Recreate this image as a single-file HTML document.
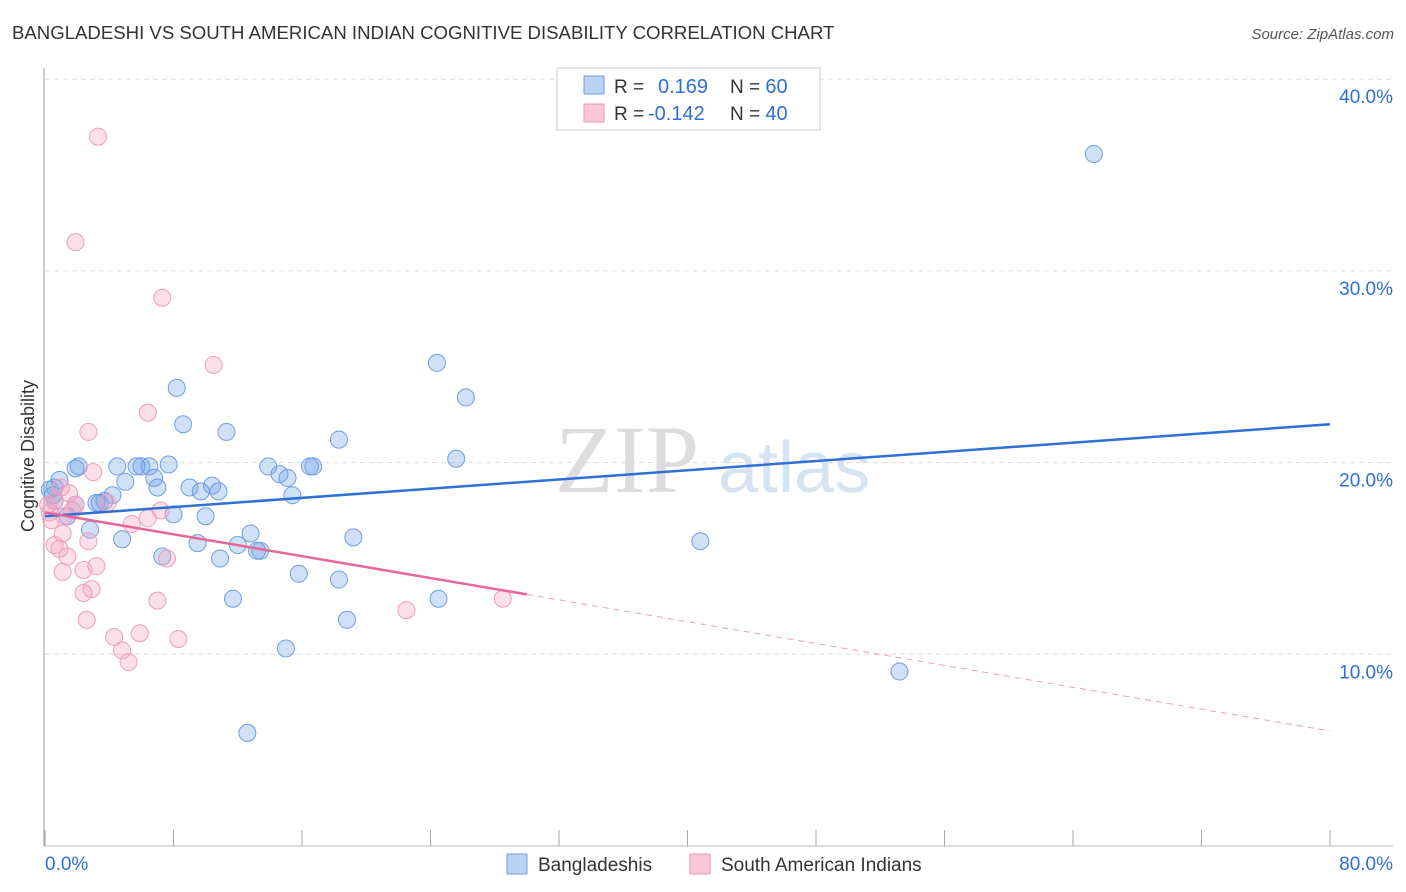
<!DOCTYPE html>
<html><head><meta charset="utf-8"><style>
body{margin:0;background:#fff;font-family:"Liberation Sans",sans-serif;}
svg{display:block}
</style></head><body>
<svg id="c" width="1406" height="892">
<text x="12" y="39" font-size="18.6" fill="#333">BANGLADESHI VS SOUTH AMERICAN INDIAN COGNITIVE DISABILITY CORRELATION CHART</text>
<text x="1394" y="39" font-size="15" fill="#555" font-style="italic" text-anchor="end">Source: ZipAtlas.com</text>
<text x="555" y="492" font-size="96" font-family="Liberation Serif,serif" fill="#ddd">ZIP</text>
<text x="718" y="492" font-size="72" fill="#d6e3f3">atlas</text>
<text transform="translate(34,456) rotate(-90)" font-size="18" fill="#333" text-anchor="middle">Cognitive Disability</text>
<g id="grid"></g><g id="pts"></g><g id="trend"></g>
<g>
<rect x="557" y="68" width="263" height="62" fill="#fff" stroke="#ccc"/>
<rect x="584" y="76" width="20" height="18" fill="#b9d3f5" stroke="#6f9ee0"/>
<rect x="584" y="104" width="20" height="18" fill="#f9c7d6" stroke="#ea9ab4"/>
<text x="614" y="93" font-size="19" fill="#333">R = <tspan fill="#2f6fd6" x="658" font-size="20">0.169</tspan><tspan fill="#333" x="730">N = </tspan><tspan fill="#2f6fd6" font-size="20">60</tspan></text>
<text x="614" y="120" font-size="19" fill="#333">R = <tspan fill="#2f6fd6" x="648" font-size="20">-0.142</tspan><tspan fill="#333" x="730">N = </tspan><tspan fill="#2f6fd6" font-size="20">40</tspan></text>
</g>
<g>
<rect x="507" y="854" width="20" height="20" fill="#b9d3f5" stroke="#6f9ee0"/>
<text x="538" y="871" font-size="19" fill="#333">Bangladeshis</text>
<rect x="690" y="854" width="20" height="20" fill="#f9c7d6" stroke="#ea9ab4"/>
<text x="721" y="871" font-size="19" fill="#333">South American Indians</text>
</g>
<text x="45" y="870" font-size="19" fill="#2f6fd6">0.0%</text>
<text x="1393" y="870" font-size="19" fill="#2f6fd6" text-anchor="end">80.0%</text>
</svg>
<script>
const blueX=[65.3,24.4,26.2,8.2,8.6,11.3,18.3,25.6,1.9,2.1,4.5,5.7,6.0,6.5,7.7,13.9,16.5,16.7,14.6,15.1,6.8,5.0,7.0,9.0,9.7,10.4,10.8,15.4,4.2,3.7,3.4,0.6,0.6,3.2,1.4,8.0,10.0,2.8,12.8,4.8,9.5,19.2,12.0,13.4,13.2,7.3,10.9,15.8,18.3,40.8,11.7,24.5,18.8,15.0,53.2,12.6,0.9,0.3,0.5,1.9];
const blueY=[36.1,25.2,23.4,23.9,22.0,21.6,21.2,20.2,19.7,19.8,19.8,19.8,19.8,19.8,19.9,19.8,19.8,19.8,19.4,19.2,19.2,19.0,18.7,18.7,18.5,18.8,18.5,18.3,18.3,18.0,17.9,18.7,18.0,17.9,17.2,17.3,17.2,16.5,16.3,16.0,15.8,16.1,15.7,15.4,15.4,15.1,15.0,14.2,13.9,15.9,12.9,12.9,11.8,10.3,9.1,5.9,19.1,18.6,18.3,17.8];
const pinkX=[3.3,1.9,7.3,10.5,6.4,2.7,3.0,1.0,1.5,1.9,1.7,3.9,1.2,6.4,5.4,0.4,0.3,7.2,1.1,2.7,0.9,0.6,1.4,2.4,3.2,1.1,7.6,2.9,2.4,7.0,2.6,4.3,5.9,8.3,4.8,5.2,22.5,28.5,0.6,0.2];
const pinkY=[37.0,31.5,28.6,25.1,22.6,21.6,19.5,18.7,18.4,17.8,17.5,17.9,17.2,17.1,16.8,17.0,17.4,17.5,16.3,15.9,15.5,15.7,15.1,14.4,14.6,14.3,15.0,13.4,13.2,12.8,11.8,10.9,11.1,10.8,10.2,9.6,12.3,12.9,18.0,17.8];
const yTicks=[10,20,30,40];
const xTicks=[0,8,16,24,32,40,48,56,64,72,80];
const blueTrend=[17.2,22.0];
const pinkTrend=[17.4,6.0];
const pinkSolidEnd=30;
const X=v=>45+v*(1285/80), Y=v=>846-v*19.17;
const NS='http://www.w3.org/2000/svg';
function mk(t,a,p){const e=document.createElementNS(NS,t);for(const k in a)e.setAttribute(k,a[k]);p.appendChild(e);return e;}
const g=document.getElementById('grid');
yTicks.forEach(t=>{
 const l=mk('line',{x1:45,x2:1393,y1:Y(t),y2:Y(t),stroke:'#ddd','stroke-dasharray':'5,4'},g);
 
 
 const tx=mk('text',{x:1393,y:Y(t)+24,'font-size':19,fill:'#2f6fd6','text-anchor':'end'},g);
 tx.textContent=t.toFixed(1)+'%';
 
 
});
mk('line',{x1:44,x2:44,y1:68,y2:846,stroke:'#999'},g);
mk('line',{x1:44,x2:1393,y1:846,y2:846,stroke:'#bbb'},g);
xTicks.forEach(t=>{
 const l=mk('line',{x1:X(t),x2:X(t),y1:830,y2:846,stroke:'#aaa'},g);
 
 
});
const p=document.getElementById('pts');
blueX.forEach((v,i)=>{
 const c=mk('circle',{cx:X(v),cy:Y(blueY[i]),r:8.5,fill:'rgba(110,160,230,0.33)',stroke:'#6f9ee0','stroke-width':1},p);
 
 
});
pinkX.forEach((v,i)=>{
 const c=mk('circle',{cx:X(v),cy:Y(pinkY[i]),r:8.5,fill:'rgba(244,160,188,0.33)',stroke:'#ee9fb8','stroke-width':1},p);
 
 
});
const tr=document.getElementById('trend');
const bl=mk('line',{x1:X(0),y1:Y(blueTrend[0]),x2:X(80),y2:Y(blueTrend[1]),stroke:'#2f6fd6','stroke-width':2.5},tr);


const pm=pinkTrend[0]+(pinkTrend[1]-pinkTrend[0])*pinkSolidEnd/80;
const pl=mk('line',{x1:X(0),y1:Y(pinkTrend[0]),x2:X(pinkSolidEnd),y2:Y(pm),stroke:'#e8669a','stroke-width':2.5},tr);


const pd=mk('line',{x1:X(pinkSolidEnd),y1:Y(pm),x2:X(80),y2:Y(pinkTrend[1]),stroke:'#e8a0bb','stroke-width':1,'stroke-dasharray':'6,5'},tr);


</script>
</body></html>
